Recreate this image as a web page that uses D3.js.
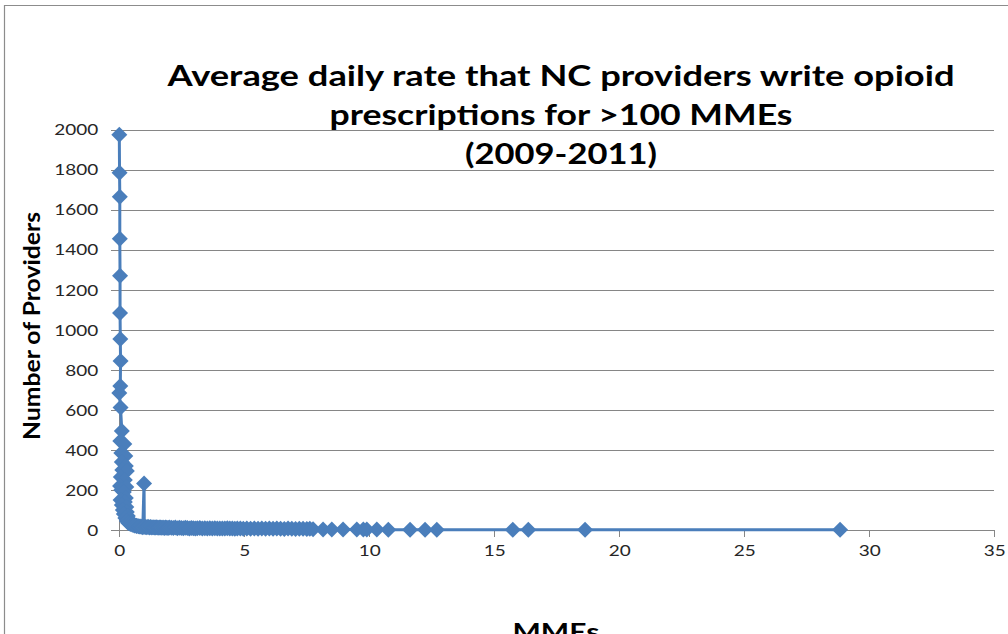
<!DOCTYPE html>
<html>
<head>
<meta charset="utf-8">
<script src="https://cdn.jsdelivr.net/npm/d3@7"></script>
<style>
  html, body { margin: 0; padding: 0; background: #fff; }
  svg { display: block; }
  text { font-family: Lato, "Open Sans", sans-serif; }
</style>
</head>
<body>
<svg id="chart" width="1008" height="634"></svg>
<script>
// Average daily rate of >100 MME prescriptions per provider (x) vs. number of providers (y)
const rate = [
  0.00, 0.01, 0.02, 0.02, 0.03, 0.03, 0.04, 0.05, 0.04, 0.00,
  0.05, 0.10, 0.04, 0.20, 0.08, 0.24, 0.10, 0.26, 0.12, 0.30,
  0.06, 0.22, 0.03, 0.28, 0.08, 0.18, 0.26, 0.05, 0.22, 0.10,
  0.28, 0.14, 0.30, 0.18, 0.34, 0.24, 0.38, 0.30, 0.44, 0.36,
  0.50, 0.44, 0.56, 0.52, 0.62, 0.60, 0.70, 0.68, 0.76, 0.80,
  0.86, 0.90, 0.94, 0.99, 1.00,
  1.05, 1.10, 1.15, 1.20, 1.25, 1.30, 1.35, 1.40, 1.45, 1.50,
  1.55, 1.60, 1.65, 1.70, 1.75, 1.80, 1.85, 1.90, 1.95, 2.00,
  2.08, 2.16, 2.24, 2.32, 2.40, 2.48, 2.56, 2.64, 2.72, 2.80,
  2.88, 2.96, 3.04, 3.12, 3.22, 3.32, 3.42, 3.52, 3.62, 3.72,
  3.82, 3.92, 4.02, 4.12, 4.22, 4.32, 4.42, 4.52, 4.62, 4.72,
  4.84, 4.96, 5.10, 5.25, 5.40, 5.55, 5.70, 5.85, 6.00, 6.15,
  6.30, 6.45, 6.60, 6.75, 6.90, 7.05, 7.20, 7.35, 7.50, 7.62,
  7.75, 8.15, 8.50, 8.95, 9.50, 9.76, 9.90, 10.30, 10.76, 11.63,
  12.23, 12.70, 15.74, 16.36, 18.63, 28.83
];
const providers = [
  1975, 1785, 1665, 1455, 1270, 1085, 955, 845, 720, 685,
  612, 495, 445, 430, 385, 370, 340, 320, 300, 295,
  265, 250, 220, 215, 200, 190, 160, 150, 140, 125,
  115, 100, 90, 80, 70, 60, 52, 45, 40, 35,
  32, 30, 28, 26, 24, 22, 21, 20, 19, 18,
  17, 16, 14, 233, 16,
  15, 14, 16, 13, 15, 12, 14, 13, 12, 14,
  11, 13, 12, 11, 13, 10, 12, 11, 10, 12,
  11, 10, 12, 9, 11, 10, 9, 11, 10, 8,
  10, 9, 8, 9, 10, 8, 9, 7, 9, 8,
  9, 7, 8, 8, 7, 9, 7, 8, 6, 8,
  7, 6, 7, 6, 8, 6, 7, 6, 7, 6,
  7, 6, 5, 7, 6, 5, 6, 6, 5, 6,
  4, 3, 3, 2, 2, 2, 2, 2, 1, 1,
  1, 1, 1, 1, 1, 1
];
const xTicks = [0, 5, 10, 15, 20, 25, 30, 35];
const yTicks = [0, 200, 400, 600, 800, 1000, 1200, 1400, 1600, 1800, 2000];
const titleLines = [
  "Average daily rate that NC providers write opioid",
  "prescriptions for >100 MMEs",
  "(2009-2011)"
];
const yTitle = "Number of Providers";
const xTitle = "MMEs";

const svg = d3.select("#chart");
const W = 1008, H = 634;
const plot = { left: 119.3, right: 994.3, top: 129.8, bottom: 530 };

const x = d3.scaleLinear().domain([0, 35]).range([plot.left, plot.right]);
const y = d3.scaleLinear().domain([0, 2000]).range([plot.bottom, plot.top]);

const axisGray = "#868686";
const labelColor = "#262626";
const blue = "#4a7ebb";
const fmt = d3.format("d");

// outer chart-area border (only top and left edges fall inside the view)
svg.append("path")
  .attr("d", `M4.5,${H}V5.5H${W}`)
  .attr("fill", "none")
  .attr("stroke", "#8c8c8c")
  .attr("stroke-width", 1.2);

// horizontal gridlines
svg.append("g")
  .attr("transform", `translate(${plot.left},0)`)
  .call(d3.axisLeft(y).tickValues(yTicks).tickSize(-(plot.right - plot.left)).tickFormat(""))
  .call(g => g.select(".domain").remove())
  .call(g => g.selectAll("line").attr("stroke", axisGray).attr("stroke-width", 1)
    .attr("shape-rendering", "crispEdges"));

// x axis
const gx = svg.append("g")
  .attr("transform", `translate(0,${plot.bottom})`)
  .call(d3.axisBottom(x).tickValues(xTicks).tickFormat(fmt).tickSize(7).tickPadding(7).tickSizeOuter(0));
gx.select(".domain").attr("stroke", axisGray).attr("shape-rendering", "crispEdges");
gx.selectAll("line").attr("stroke", axisGray).attr("shape-rendering", "crispEdges");
gx.selectAll("text")
  .attr("fill", labelColor)
  .style("font-size", "16px")
  .attr("dy", "0.72em")
  .attr("textLength", d => fmt(d).length * 11)
  .attr("lengthAdjust", "spacingAndGlyphs");

// y axis
const gy = svg.append("g")
  .attr("transform", `translate(${plot.left},0)`)
  .call(d3.axisLeft(y).tickValues(yTicks).tickFormat(fmt).tickSize(8).tickPadding(13).tickSizeOuter(0));
gy.select(".domain").attr("stroke", axisGray).attr("shape-rendering", "crispEdges");
gy.selectAll("line").attr("stroke", axisGray).attr("shape-rendering", "crispEdges");
gy.selectAll("text")
  .attr("fill", labelColor)
  .style("font-size", "16px")
  .attr("textLength", d => fmt(d).length * 11)
  .attr("lengthAdjust", "spacingAndGlyphs");

// series line, in data order
const pts = rate.map((r, i) => [r, providers[i]]);
svg.append("path")
  .datum(pts)
  .attr("d", d3.line().x(d => x(d[0])).y(d => y(d[1])))
  .attr("fill", "none")
  .attr("stroke", blue)
  .attr("stroke-width", 3)
  .attr("stroke-linejoin", "round");

// diamond markers
const s = 8;
svg.append("g")
  .selectAll("path")
  .data(pts)
  .join("path")
  .attr("transform", d => `translate(${x(d[0])},${y(d[1])})`)
  .attr("d", `M0,${-s}L${s},0L0,${s}L${-s},0Z`)
  .attr("fill", blue);

// chart title
const titleWidths = [787, 463, 192];
const titleBase = [86, 125, 164];
svg.append("g")
  .selectAll("text")
  .data(titleLines)
  .join("text")
  .attr("x", 561)
  .attr("y", (d, i) => titleBase[i])
  .attr("text-anchor", "middle")
  .attr("fill", "#000")
  .style("font-size", "29px")
  .style("font-weight", "bold")
  .attr("textLength", (d, i) => titleWidths[i])
  .attr("lengthAdjust", "spacingAndGlyphs")
  .text(d => d);

// axis titles
svg.append("text")
  .attr("transform", "translate(40,326) rotate(-90)")
  .attr("text-anchor", "middle")
  .attr("fill", "#000")
  .style("font-size", "23px")
  .style("font-weight", "bold")
  .attr("textLength", 228)
  .attr("lengthAdjust", "spacingAndGlyphs")
  .text(yTitle);

// x-axis title sits at the lower edge of the chart area
svg.append("text")
  .attr("x", 556)
  .attr("y", 640)
  .attr("text-anchor", "middle")
  .attr("fill", "#000")
  .style("font-size", "22px")
  .style("font-weight", "bold")
  .attr("textLength", 87)
  .attr("lengthAdjust", "spacingAndGlyphs")
  .text(xTitle);
</script>
</body>
</html>
